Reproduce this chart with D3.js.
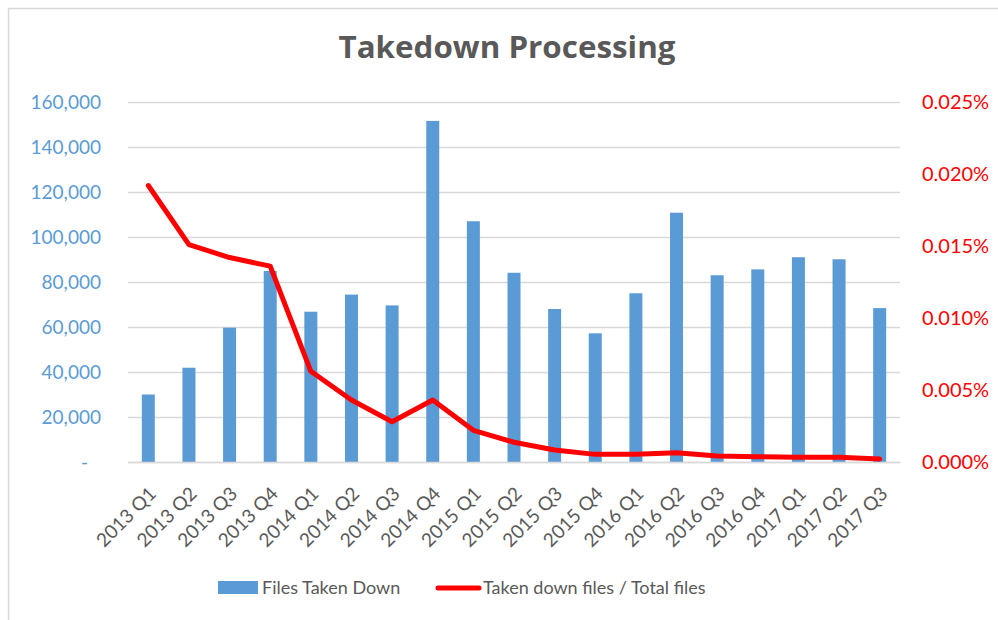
<!DOCTYPE html>
<html>
<head>
<meta charset="UTF-8">
<title>Takedown Processing</title>
<script src="https://cdn.jsdelivr.net/npm/d3@7"></script>
<style>
	body { margin: 0; background: #fff; }
	text { font-family: Lato, "Noto Sans", sans-serif; }
</style>
</head>
<body>
	<div id="chart"></div>
	<script type="text/javascript">
		var quarters = ["2013 Q1", "2013 Q2", "2013 Q3", "2013 Q4", "2014 Q1", "2014 Q2", "2014 Q3", "2014 Q4",
			"2015 Q1", "2015 Q2", "2015 Q3", "2015 Q4", "2016 Q1", "2016 Q2", "2016 Q3", "2016 Q4",
			"2017 Q1", "2017 Q2", "2017 Q3"];
		var filesTakenDown = [30000, 41900, 59700, 84900, 66800, 74400, 69600, 151600,
			107000, 84100, 68000, 57200, 75000, 110800, 83000, 85600,
			91000, 90100, 68400];
		// percent of total files
		var takenRatio = [0.0192, 0.0151, 0.0142, 0.0136, 0.0063, 0.0043, 0.0028, 0.0043,
			0.0022, 0.00137, 0.00083, 0.00053, 0.00053, 0.00065, 0.00042, 0.00037,
			0.00033, 0.00033, 0.00021];
		var leftTicks = [0, 20000, 40000, 60000, 80000, 100000, 120000, 140000, 160000];
		var rightTicks = [0, 0.005, 0.010, 0.015, 0.020, 0.025];

		var W = 998, H = 620;
		var margin = { top: 102, right: 98, bottom: 158, left: 128 };
		var width = W - margin.left - margin.right;
		var height = H - margin.top - margin.bottom;

		var svg = d3.select("#chart").append("svg").attr("width", W).attr("height", H);

		// frame (top + left only visible)
		svg.append("line").attr("x1", 8).attr("x2", W).attr("y1", 8.5).attr("y2", 8.5).attr("stroke", "#d9d9d9").attr("stroke-width", 1.5);
		svg.append("line").attr("x1", 8.5).attr("x2", 8.5).attr("y1", 8).attr("y2", H).attr("stroke", "#d9d9d9").attr("stroke-width", 1.5);

		svg.append("text").attr("x", 507).attr("y", 58).attr("text-anchor", "middle")
			.style("font-family", "'Open Sans', sans-serif")
			.attr("font-size", 29.5).attr("font-weight", "bold").attr("fill", "#595959")
			.attr("textLength", 337).attr("lengthAdjust", "spacingAndGlyphs")
			.text("Takedown Processing");

		var g = svg.append("g").attr("transform", "translate(" + margin.left + "," + margin.top + ")");

		var x = d3.scaleBand().domain(quarters).range([0, width]);
		var y = d3.scaleLinear().domain([0, 160000]).range([height, 0]);
		var y2 = d3.scaleLinear().domain([0, 0.025]).range([height, 0]);

		// gridlines
		g.append("g").selectAll("line").data(leftTicks).enter().append("line")
			.attr("x1", 0).attr("x2", width)
			.attr("y1", function(d) { return Math.round(y(d)) + 0.5; })
			.attr("y2", function(d) { return Math.round(y(d)) + 0.5; })
			.attr("stroke", "#d9d9d9").attr("stroke-width", 1.3);

		// left axis
		var yAxis = g.append("g").call(d3.axisLeft(y).tickValues(leftTicks).tickSize(0).tickPadding(27)
			.tickFormat(function(d) { return d === 0 ? "-" : d3.format(",")(d); }));
		yAxis.select(".domain").remove();
		yAxis.selectAll("text").attr("fill", "#5b9bd5").attr("font-size", 19);
		yAxis.selectAll("text").filter(function(d) { return d === 0; }).attr("dx", -13);

		// right axis
		var y2Axis = g.append("g").attr("transform", "translate(" + width + ",0)")
			.call(d3.axisRight(y2).tickValues(rightTicks).tickSize(0).tickPadding(22)
				.tickFormat(function(d) { return d3.format(".3f")(d) + "%"; }));
		y2Axis.select(".domain").remove();
		y2Axis.selectAll("text").attr("fill", "#ff0000").attr("font-size", 20);

		// bars
		var barW = 13;
		g.append("g").selectAll("rect").data(filesTakenDown).enter().append("rect")
			.attr("x", function(d, i) { return x(quarters[i]) + x.bandwidth() / 2 - barW / 2; })
			.attr("y", function(d) { return y(d); })
			.attr("width", barW)
			.attr("height", function(d) { return height - y(d); })
			.attr("fill", "#5b9bd5");

		// x axis
		var xAxis = g.append("g").attr("transform", "translate(0," + height + ")")
			.call(d3.axisBottom(x).tickSize(0));
		xAxis.select(".domain").attr("stroke", "#d9d9d9").attr("stroke-width", 1.5);
		xAxis.selectAll("text").attr("fill", "#595959").attr("font-size", 19)
			.attr("text-anchor", "end").attr("x", 0).attr("y", 0).attr("dy", null)
			.attr("transform", "translate(9,33) rotate(-45)");

		// ratio line
		var line = d3.line()
			.x(function(d, i) { return x(quarters[i]) + x.bandwidth() / 2; })
			.y(function(d) { return y2(d); });
		g.append("path").datum(takenRatio).attr("fill", "none").attr("stroke", "#ff0000")
			.attr("stroke-width", 5).attr("stroke-linejoin", "round").attr("stroke-linecap", "round")
			.attr("d", line);

		// legend
		var legend = svg.append("g");
		legend.append("rect").attr("x", 218).attr("y", 581).attr("width", 40).attr("height", 13).attr("fill", "#5b9bd5");
		legend.append("text").attr("x", 262).attr("y", 594).attr("font-size", 18).attr("fill", "#595959").text("Files Taken Down");
		legend.append("line").attr("x1", 438).attr("x2", 479).attr("y1", 588).attr("y2", 588)
			.attr("stroke", "#ff0000").attr("stroke-width", 5).attr("stroke-linecap", "round");
		legend.append("text").attr("x", 483).attr("y", 594).attr("font-size", 18).attr("fill", "#595959").text("Taken down files / Total files");
	</script>
</body>
</html>
